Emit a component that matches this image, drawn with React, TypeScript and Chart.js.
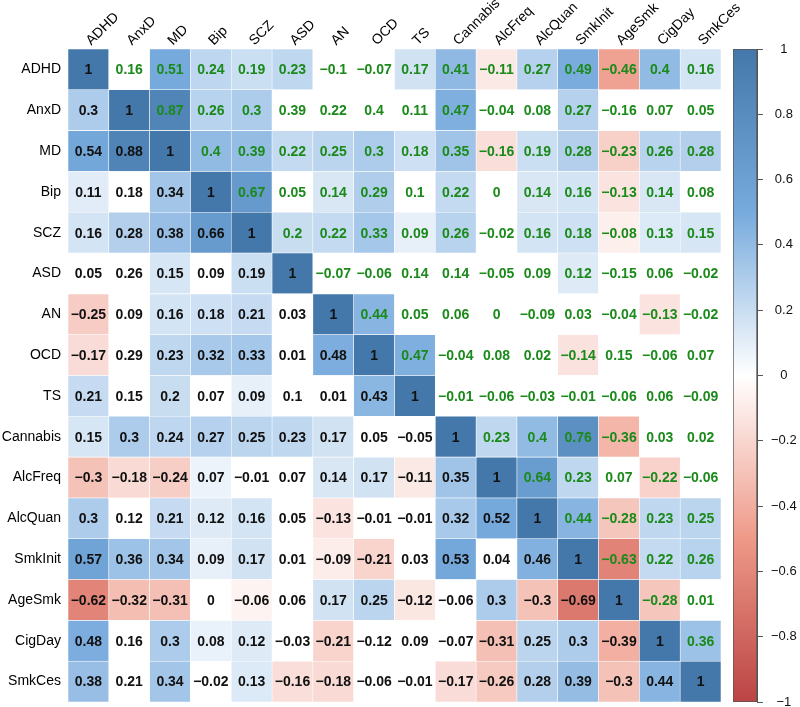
import React, { useEffect, useRef } from 'react';
import { Chart, registerables } from 'chart.js';

Chart.register(...registerables);

const variables = ['ADHD', 'AnxD', 'MD', 'Bip', 'SCZ', 'ASD', 'AN', 'OCD', 'TS', 'Cannabis', 'AlcFreq', 'AlcQuan', 'SmkInit', 'AgeSmk', 'CigDay', 'SmkCes'];

// correlation values, one row per variable (lower triangle black, upper triangle green)
const rowADHD = [1, 0.16, 0.51, 0.24, 0.19, 0.23, -0.1, -0.07, 0.17, 0.41, -0.11, 0.27, 0.49, -0.46, 0.4, 0.16];
const rowAnxD = [0.3, 1, 0.87, 0.26, 0.3, 0.39, 0.22, 0.4, 0.11, 0.47, -0.04, 0.08, 0.27, -0.16, 0.07, 0.05];
const rowMD = [0.54, 0.88, 1, 0.4, 0.39, 0.22, 0.25, 0.3, 0.18, 0.35, -0.16, 0.19, 0.28, -0.23, 0.26, 0.28];
const rowBip = [0.11, 0.18, 0.34, 1, 0.67, 0.05, 0.14, 0.29, 0.1, 0.22, 0, 0.14, 0.16, -0.13, 0.14, 0.08];
const rowSCZ = [0.16, 0.28, 0.38, 0.66, 1, 0.2, 0.22, 0.33, 0.09, 0.26, -0.02, 0.16, 0.18, -0.08, 0.13, 0.15];
const rowASD = [0.05, 0.26, 0.15, 0.09, 0.19, 1, -0.07, -0.06, 0.14, 0.14, -0.05, 0.09, 0.12, -0.15, 0.06, -0.02];
const rowAN = [-0.25, 0.09, 0.16, 0.18, 0.21, 0.03, 1, 0.44, 0.05, 0.06, 0, -0.09, 0.03, -0.04, -0.13, -0.02];
const rowOCD = [-0.17, 0.29, 0.23, 0.32, 0.33, 0.01, 0.48, 1, 0.47, -0.04, 0.08, 0.02, -0.14, 0.15, -0.06, 0.07];
const rowTS = [0.21, 0.15, 0.2, 0.07, 0.09, 0.1, 0.01, 0.43, 1, -0.01, -0.06, -0.03, -0.01, -0.06, 0.06, -0.09];
const rowCannabis = [0.15, 0.3, 0.24, 0.27, 0.25, 0.23, 0.17, 0.05, -0.05, 1, 0.23, 0.4, 0.76, -0.36, 0.03, 0.02];
const rowAlcFreq = [-0.3, -0.18, -0.24, 0.07, -0.01, 0.07, 0.14, 0.17, -0.11, 0.35, 1, 0.64, 0.23, 0.07, -0.22, -0.06];
const rowAlcQuan = [0.3, 0.12, 0.21, 0.12, 0.16, 0.05, -0.13, -0.01, -0.01, 0.32, 0.52, 1, 0.44, -0.28, 0.23, 0.25];
const rowSmkInit = [0.57, 0.36, 0.34, 0.09, 0.17, 0.01, -0.09, -0.21, 0.03, 0.53, 0.04, 0.46, 1, -0.63, 0.22, 0.26];
const rowAgeSmk = [-0.62, -0.32, -0.31, 0, -0.06, 0.06, 0.17, 0.25, -0.12, -0.06, 0.3, -0.3, -0.69, 1, -0.28, 0.01];
const rowCigDay = [0.48, 0.16, 0.3, 0.08, 0.12, -0.03, -0.21, -0.12, 0.09, -0.07, -0.31, 0.25, 0.3, -0.39, 1, 0.36];
const rowSmkCes = [0.38, 0.21, 0.34, -0.02, 0.13, -0.16, -0.18, -0.06, -0.01, -0.17, -0.26, 0.28, 0.39, -0.3, 0.44, 1];

const corrRows = [rowADHD, rowAnxD, rowMD, rowBip, rowSCZ, rowASD, rowAN, rowOCD, rowTS, rowCannabis, rowAlcFreq, rowAlcQuan, rowSmkInit, rowAgeSmk, rowCigDay, rowSmkCes];

// 1 = significant (cell coloured), 0 = not significant (cell left white)
const sigADHD = [1, 0, 1, 1, 1, 1, 0, 0, 1, 1, 1, 1, 1, 1, 1, 1];
const sigAnxD = [1, 1, 1, 1, 1, 0, 0, 0, 0, 1, 0, 0, 1, 0, 0, 0];
const sigMD = [1, 1, 1, 1, 1, 1, 1, 1, 1, 1, 1, 1, 1, 1, 1, 1];
const sigBip = [1, 0, 1, 1, 1, 0, 1, 1, 0, 1, 0, 1, 1, 1, 1, 0];
const sigSCZ = [1, 1, 1, 1, 1, 1, 1, 1, 1, 1, 0, 1, 1, 1, 1, 1];
const sigASD = [0, 0, 1, 0, 1, 1, 0, 0, 0, 0, 0, 0, 1, 0, 0, 0];
const sigAN = [1, 0, 1, 1, 1, 0, 1, 1, 0, 0, 0, 0, 0, 0, 1, 0];
const sigOCD = [1, 0, 1, 1, 1, 0, 1, 1, 1, 0, 0, 0, 1, 0, 0, 0];
const sigTS = [1, 0, 1, 0, 1, 0, 0, 1, 1, 0, 0, 0, 0, 0, 0, 0];
const sigCannabis = [1, 1, 1, 1, 1, 1, 1, 0, 0, 1, 1, 1, 1, 1, 0, 0];
const sigAlcFreq = [1, 1, 1, 1, 0, 0, 1, 1, 1, 1, 1, 1, 1, 0, 1, 0];
const sigAlcQuan = [1, 0, 1, 1, 1, 0, 1, 0, 0, 1, 1, 1, 1, 1, 1, 1];
const sigSmkInit = [1, 1, 1, 1, 1, 0, 1, 1, 0, 1, 0, 1, 1, 1, 1, 1];
const sigAgeSmk = [1, 1, 1, 0, 1, 0, 1, 1, 1, 0, 1, 1, 1, 1, 1, 0];
const sigCigDay = [1, 0, 1, 1, 1, 0, 1, 0, 0, 0, 1, 1, 1, 1, 1, 1];
const sigSmkCes = [1, 0, 1, 0, 1, 1, 1, 0, 0, 1, 1, 1, 1, 1, 1, 1];

const sigRows = [sigADHD, sigAnxD, sigMD, sigBip, sigSCZ, sigASD, sigAN, sigOCD, sigTS, sigCannabis, sigAlcFreq, sigAlcQuan, sigSmkInit, sigAgeSmk, sigCigDay, sigSmkCes];

const colorbarTicks = [-1, -0.8, -0.6, -0.4, -0.2, 0, 0.2, 0.4, 0.6, 0.8, 1];
const paletteStops = [-1, -0.5, 0, 0.5, 1];
const paletteColors = ['#BB4444', '#EE9988', '#FFFFFF', '#77AADD', '#4477AA'];

const FONT = '"Liberation Sans", Arial, Helvetica, sans-serif';
const GREEN = '#1b8a1b';

function hexToRgb(h: string) {
  const n = parseInt(h.slice(1), 16);
  return [(n >> 16) & 255, (n >> 8) & 255, n & 255];
}

function colorFor(v: number) {
  let i = 0;
  while (i < paletteStops.length - 2 && v > paletteStops[i + 1]) i++;
  const t = (v - paletteStops[i]) / (paletteStops[i + 1] - paletteStops[i]);
  const a = hexToRgb(paletteColors[i]);
  const b = hexToRgb(paletteColors[i + 1]);
  const c = a.map((x, k) => Math.round(x + (b[k] - x) * t));
  return `rgb(${c[0]},${c[1]},${c[2]})`;
}

function fmt(v: number) {
  const r = Math.round(v * 100) / 100;
  if (r === 0) return '0';
  return String(r).replace('-', '\u2212');
}

export default function App() {
  const mainRef = useRef<HTMLCanvasElement>(null);
  const barRef = useRef<HTMLCanvasElement>(null);

  useEffect(() => {
    const cells: any[] = [];
    const bg: string[] = [];
    corrRows.forEach((row, r) => {
      row.forEach((v, c) => {
        cells.push({ x: variables[c], y: [r, r + 1] });
        bg.push(sigRows[r][c] ? colorFor(v) : '#FFFFFF');
      });
    });

    const numberPlugin = {
      id: 'cellNumbers',
      afterDatasetsDraw(chart: any) {
        const ctx = chart.ctx;
        const meta = chart.getDatasetMeta(0);
        ctx.save();
        ctx.font = `bold 14px ${FONT}`;
        ctx.textAlign = 'center';
        ctx.textBaseline = 'middle';
        meta.data.forEach((el: any, k: number) => {
          const r = Math.floor(k / variables.length);
          const c = k % variables.length;
          const p = el.getProps(['x', 'y', 'base'], true);
          ctx.fillStyle = c > r ? GREEN : '#111';
          ctx.fillText(fmt(corrRows[r][c]), p.x, (p.y + p.base) / 2 + 1);
        });
        ctx.restore();
      },
    };

    const main = new Chart(mainRef.current!, {
      type: 'bar',
      data: {
        labels: variables,
        datasets: [
          {
            data: cells,
            backgroundColor: bg,
            borderColor: 'rgba(255,255,255,0.7)',
            borderWidth: 0.6,
            borderSkipped: false,
            barPercentage: 1,
            categoryPercentage: 1,
          },
        ],
      },
      options: {
        animation: false,
        responsive: false,
        devicePixelRatio: 1,
        layout: { padding: { left: 0, right: 79, top: 0, bottom: 5 } },
        plugins: { legend: { display: false }, tooltip: { enabled: false } },
        scales: {
          x: {
            type: 'category',
            position: 'top',
            grid: { display: false, drawTicks: false },
            border: { display: false },
            ticks: {
              autoSkip: false,
              minRotation: 45,
              maxRotation: 45,
              padding: 0,
              labelOffset: 12,
              color: '#000',
              font: { family: FONT, size: 14 },
            },
            afterFit: (s: any) => {
              s.height = 49;
              s.paddingLeft = 0;
              s.paddingRight = 0;
            },
          },
          y: {
            type: 'linear',
            min: 0,
            max: variables.length,
            reverse: true,
            grid: { display: false, drawTicks: false },
            border: { display: false },
            afterBuildTicks: (s: any) => {
              s.ticks = variables.map((_, i) => ({ value: i + 0.5 }));
            },
            ticks: {
              autoSkip: false,
              padding: 7,
              color: '#000',
              font: { family: FONT, size: 14 },
              callback: (v: any) => variables[Math.floor(Number(v))],
            },
            afterFit: (s: any) => {
              s.width = 68;
              s.paddingTop = 0;
              s.paddingBottom = 0;
            },
          },
        },
      },
      plugins: [numberPlugin],
    });

    const bar = new Chart(barRef.current!, {
      type: 'bar',
      data: {
        labels: ['scale'],
        datasets: [
          {
            data: [[-1, 1]] as any,
            backgroundColor: (ctx: any) => {
              const area = ctx.chart.chartArea;
              if (!area) return '#fff';
              const g = ctx.chart.ctx.createLinearGradient(0, area.bottom, 0, area.top);
              paletteStops.forEach((s, i) => g.addColorStop((s + 1) / 2, paletteColors[i]));
              return g;
            },
            borderColor: '#555',
            borderWidth: 1,
            borderSkipped: false,
            barPercentage: 1,
            categoryPercentage: 1,
          },
        ],
      },
      options: {
        animation: false,
        responsive: false,
        devicePixelRatio: 1,
        layout: { padding: { left: 33, right: 0, top: 49, bottom: 5 } },
        plugins: { legend: { display: false }, tooltip: { enabled: false } },
        scales: {
          x: { display: false },
          y: {
            type: 'linear',
            position: 'right',
            min: -1,
            max: 1,
            afterBuildTicks: (s: any) => {
              s.ticks = colorbarTicks.map((v) => ({ value: v }));
            },
            grid: { drawOnChartArea: false, drawTicks: true, tickLength: 6, color: '#555' },
            border: { display: true, color: '#555' },
            ticks: {
              padding: 8,
              crossAlign: 'center',
              color: '#111',
              font: { family: FONT, size: 13 },
              callback: (v: any) => fmt(Number(v)),
            },
            afterFit: (s: any) => {
              s.width = 43;
              s.paddingTop = 0;
              s.paddingBottom = 0;
            },
          },
        },
      },
    });

    return () => {
      main.destroy();
      bar.destroy();
    };
  }, []);

  return (
    <div style={{ position: 'absolute', left: 0, top: 0, width: 800, height: 707, overflow: 'hidden', background: '#fff' }}>
      <canvas ref={mainRef} width={800} height={707} style={{ position: 'absolute', left: 0, top: 0, width: 800, height: 707 }} />
      <canvas ref={barRef} width={100} height={707} style={{ position: 'absolute', left: 700, top: 0, width: 100, height: 707 }} />
    </div>
  );
}
